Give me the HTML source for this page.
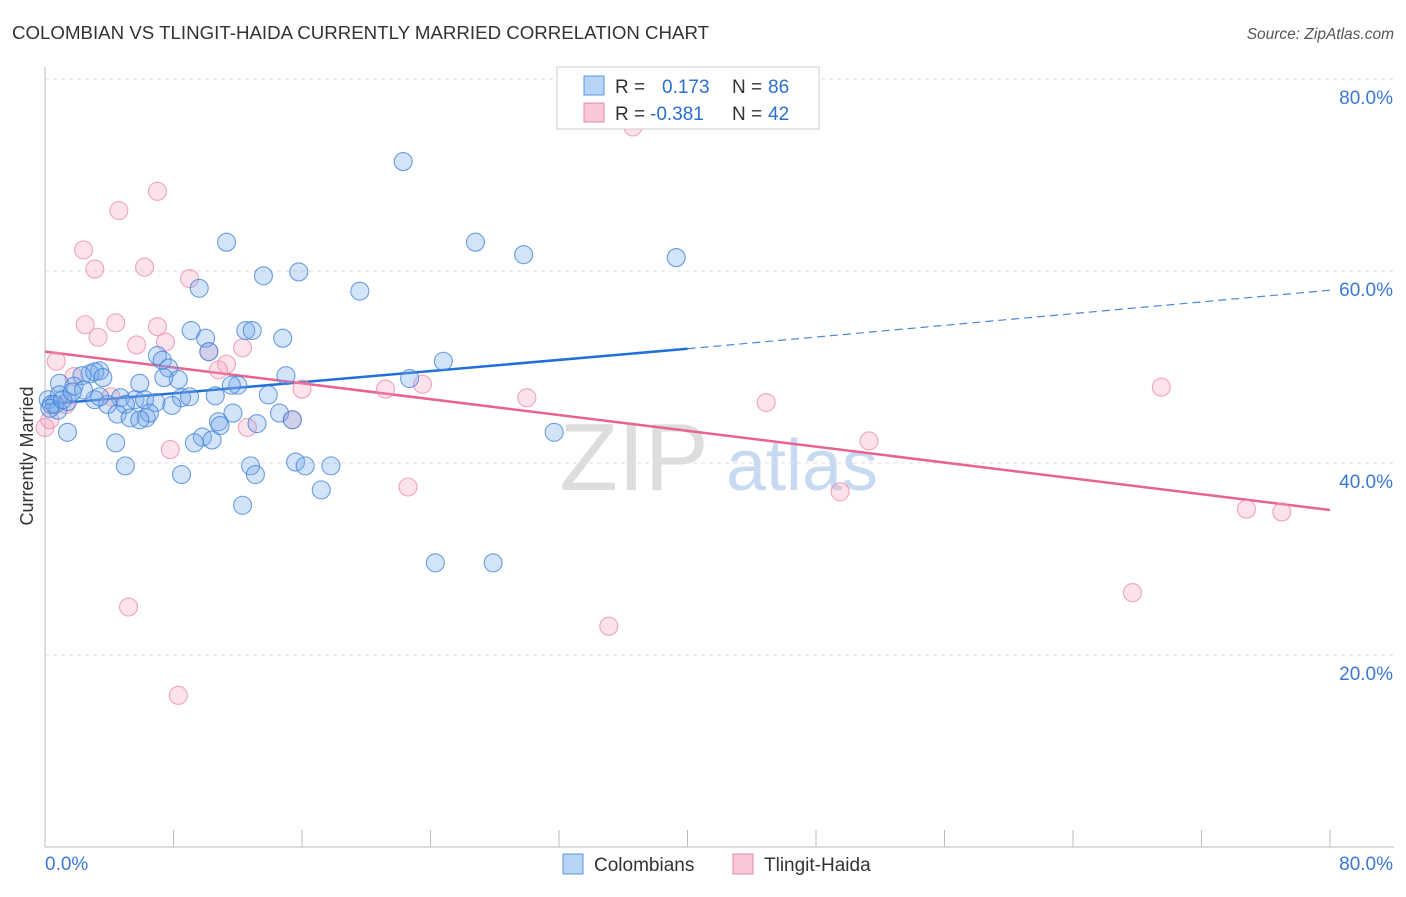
<!DOCTYPE html>
<html><head><meta charset="utf-8"><style>
body{margin:0;background:#fff;font-family:"Liberation Sans",sans-serif}
svg text{font-family:"Liberation Sans",sans-serif}
</style></head><body>
<svg id="chart" width="1406" height="892" viewBox="0 0 1406 892">
<text x="12" y="39" font-size="18.7" fill="#333">COLOMBIAN VS TLINGIT-HAIDA CURRENTLY MARRIED CORRELATION CHART</text>
<text x="1394" y="39" font-size="15.5" fill="#555" text-anchor="end" font-style="italic">Source: ZipAtlas.com</text>
<text transform="translate(33,456) rotate(-90)" font-size="18" fill="#333" text-anchor="middle">Currently Married</text>
<g>
<text x="634" y="490" font-size="96" fill="#ddd" text-anchor="middle" font-family="Liberation Serif, serif">ZIP</text>
<text x="802" y="490" font-size="72" fill="#c8daf2" text-anchor="middle">atlas</text>
</g>
<g id="grid"></g><g id="axes"></g><g id="lines"></g><g id="pts"></g>
<g>
<rect x="557" y="67" width="262" height="62" fill="#fff" stroke="#ccc"/>
<rect x="584" y="76" width="20" height="19" fill="#b7d3f5" stroke="#5b95dd"/>
<rect x="584" y="103" width="20" height="19" fill="#f9c7d6" stroke="#e98aa8"/>
<text x="615" y="93" font-size="19" fill="#333">R = </text><text x="662" y="93" font-size="19" fill="#2b6fd1">0.173</text>
<text x="732" y="93" font-size="19" fill="#333">N = </text><text x="768" y="93" font-size="19" fill="#2b6fd1">86</text>
<text x="615" y="120" font-size="19" fill="#333">R = </text><text x="650" y="120" font-size="19" fill="#2b6fd1">-0.381</text>
<text x="732" y="120" font-size="19" fill="#333">N = </text><text x="768" y="120" font-size="19" fill="#2b6fd1">42</text>
</g>
<g>
<rect x="563" y="854" width="20" height="20" fill="#b7d3f5" stroke="#5b95dd"/>
<text x="594" y="871" font-size="19" fill="#333">Colombians</text>
<rect x="733" y="854" width="20" height="20" fill="#f9c7d6" stroke="#e98aa8"/>
<text x="764" y="871" font-size="19" fill="#333">Tlingit-Haida</text>
</g>
</svg>
<script>
const yTicks=[20,40,60,80];
const yTickLabels=["20.0%","40.0%","60.0%","80.0%"];
const blueX=[22.3,11.3,26.8,29.8,39.3,13.6,15.8,9.6,19.6,9.1,12.5,12.9,10.0,14.8,7.0,7.3,10.2,24.8,7.7,8.3,7.4,3.4,2.8,2.3,3.1,3.6,0.9,1.8,5.9,12.0,11.6,15.0,22.7,13.9,10.6,8.5,9.0,4.7,5.6,6.2,6.9,3.1,0.9,0.2,0.4,0.8,1.4,3.9,5.0,7.9,14.6,11.7,4.5,5.3,6.3,6.5,5.9,10.8,13.2,15.4,10.9,9.8,9.3,10.4,4.4,1.4,31.7,12.8,15.6,16.2,17.8,5.0,8.5,13.1,17.2,12.3,24.3,27.9,0.6,0.3,1.1,1.7,2.4,3.4];
const blueY=[71.4,63.0,63.0,61.7,61.4,59.5,59.9,58.2,57.9,53.8,53.8,53.8,53.0,53.0,51.2,50.7,51.6,50.6,49.9,48.7,48.9,49.6,49.3,49.1,49.5,48.9,48.3,48.0,48.3,48.1,48.1,49.1,48.8,47.1,47.0,46.8,46.9,46.8,46.6,46.6,46.3,46.6,47.1,46.6,46.1,45.5,46.4,46.1,46.1,46.0,45.2,45.2,45.1,44.7,44.7,45.2,44.5,44.3,44.1,44.5,43.9,42.7,42.1,42.4,42.1,43.2,43.2,39.7,40.1,39.7,39.7,39.7,38.8,38.8,37.2,35.6,29.6,29.6,46.1,45.7,46.6,47.4,47.6,46.9];
const pinkX=[36.6,7.0,4.6,2.4,6.2,3.1,9.0,2.5,4.4,7.0,3.3,7.5,5.7,12.3,10.2,0.7,11.3,10.8,1.8,23.5,21.2,16.0,30.0,44.9,69.5,4.1,1.3,12.6,15.4,51.3,7.8,22.6,49.5,74.8,77.0,5.2,35.1,67.7,8.3,0,0.3];
const pinkY=[75.0,68.3,66.3,62.2,60.4,60.2,59.2,54.4,54.6,54.2,53.1,52.6,52.3,52.0,51.6,50.6,50.3,49.7,49.0,48.2,47.7,47.7,46.8,46.3,47.9,46.9,46.1,43.7,44.5,42.3,41.4,37.5,37.0,35.2,34.9,25.0,23.0,26.5,15.8,43.7,44.5];
const blueTrend=[46.1,51.9,58.0];
const pinkTrend=[51.6,35.1];
const NS="http://www.w3.org/2000/svg";
const X=v=>45+v*(1285/80), Y=v=>847-v*9.6;
function mk(p,t,a){const e=document.createElementNS(NS,t);for(const k in a)e.setAttribute(k,a[k]);p.appendChild(e);return e;}
const grid=document.getElementById('grid'),axes=document.getElementById('axes');
yTicks.forEach((t,i)=>{
 const g=mk(grid,'line',{x1:45,x2:1394,y1:Y(t),y2:Y(t),stroke:'#ddd','stroke-dasharray':'4,4'});
 
 
 const l=mk(axes,'text',{x:1393,y:Y(t)+25,'font-size':19,fill:'#3b78d8','text-anchor':'end'});l.textContent=yTickLabels[i];
 
 
});
mk(axes,'line',{x1:45,x2:45,y1:67,y2:847,stroke:'#bbb'});
mk(axes,'line',{x1:45,x2:1394,y1:847,y2:847,stroke:'#bbb'});
for(let i=1;i<=10;i++){const t=mk(axes,'line',{x1:X(i*8),x2:X(i*8),y1:830,y2:847,stroke:'#bbb'});
 
 }
const x0=mk(axes,'text',{x:45,y:870,'font-size':19,fill:'#3b78d8'});x0.textContent='0.0%';


const x1=mk(axes,'text',{x:1393,y:870,'font-size':19,fill:'#3b78d8','text-anchor':'end'});x1.textContent='80.0%';


const pts=document.getElementById('pts');
function dots(xs,ys,fill,stroke,name){xs.forEach((x,i)=>{const c=mk(pts,'circle',{cx:X(x),cy:Y(ys[i]),r:9,fill:fill,stroke:stroke,'stroke-width':1.1,'stroke-opacity':0.75});
 
 });}
dots(pinkX,pinkY,'rgba(244,160,190,0.3)','#e98aa8','tlingit-point');
dots(blueX,blueY,'rgba(120,170,235,0.33)','#3d80d8','colombian-point');
const lines=document.getElementById('lines');
const b1=mk(lines,'line',{x1:X(0),y1:Y(blueTrend[0]),x2:X(40),y2:Y(blueTrend[1]),stroke:'#2170d8','stroke-width':2.5});


const b2=mk(lines,'line',{x1:X(40),y1:Y(blueTrend[1]),x2:X(80),y2:Y(blueTrend[2]),stroke:'#4a86d8','stroke-width':1.2,'stroke-dasharray':'8,5'});


const p1=mk(lines,'line',{x1:X(0),y1:Y(pinkTrend[0]),x2:X(80),y2:Y(pinkTrend[1]),stroke:'#e8638f','stroke-width':2.5});


</script>
</body></html>
